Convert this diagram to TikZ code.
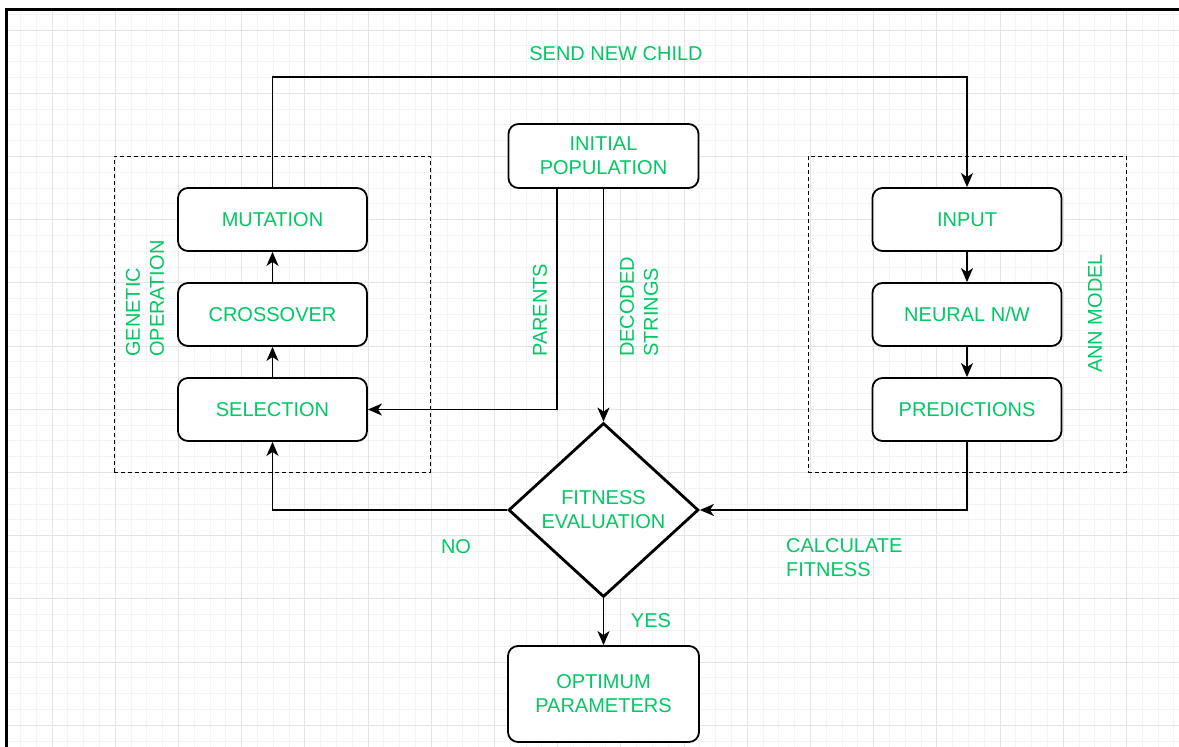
\documentclass[tikz,border=0pt]{standalone}
\usepackage{fontspec}
\setmainfont{Liberation Sans}
\usetikzlibrary{arrows.meta,shapes.geometric}
\definecolor{txtgreen}{RGB}{0,200,100}
\definecolor{gridminor}{RGB}{244,244,244}
\definecolor{gridmajor}{RGB}{228,228,228}
\begin{document}
\begin{tikzpicture}[x=1pt,y=-1pt,
  box/.style={draw=black, line width=1.8pt, rounded corners=10pt, fill=white,
    minimum width=189pt, minimum height=63pt, inner sep=0pt,
    font=\fontsize{20}{24}\selectfont, text=txtgreen, align=center},
  lbl/.style={font=\fontsize{20}{24}\selectfont, text=txtgreen, align=left, inner sep=0pt},
  arr/.style={draw=black, line width=1.8pt, -{Stealth[length=14pt,width=12pt,inset=4pt]}},
  grp/.style={draw=black, line width=1pt, dash pattern=on 4pt off 3pt, inner sep=0pt}]
\useasboundingbox (0,0) rectangle (1179,747);
\fill[white] (0,0) rectangle (1179,747);
% grid
\foreach \i in {1,...,74} {\draw[gridminor, line width=0.9pt] ({4.6+15.8*\i},10) -- ({4.6+15.8*\i},747);}
\foreach \i in {1,...,47} {\draw[gridminor, line width=0.9pt] (7,{-1.6+15.8*\i}) -- (1179,{-1.6+15.8*\i});}
\foreach \i in {0,...,17} {\draw[gridmajor, line width=1pt] ({52+63.2*\i},10) -- ({52+63.2*\i},747);}
\foreach \i in {0,...,11} {\draw[gridmajor, line width=1pt] (7,{30+63.2*\i}) -- (1179,{30+63.2*\i});}
% frame
\draw[line width=3pt] (6,747) -- (6,9) -- (1179,9);
% groups
\node[grp, minimum width=316pt, minimum height=316pt] (genbox) at (272,314) {};
\node[grp, minimum width=318pt, minimum height=316pt] (annbox) at (967,314) {};
% boxes
\node[box, minimum width=190pt, minimum height=64pt] (init) at (603.5,156) {INITIAL\\POPULATION};
\node[box] (mut) at (272.5,219.5) {MUTATION};
\node[box] (cross) at (272.5,314.5) {CROSSOVER};
\node[box] (sel) at (272.5,409.5) {SELECTION};
\node[box] (inp) at (967,219.5) {INPUT};
\node[box] (nn) at (967,314.5) {NEURAL N/W};
\node[box] (pred) at (967,409.5) {PREDICTIONS};
\node[diamond, draw=black, line width=2.8pt, fill=white, minimum width=190pt, minimum height=174pt,
  inner sep=0pt, aspect=1.09, font=\fontsize{20}{24}\selectfont, text=txtgreen, align=center] (fit) at (603.5,510) {FITNESS\\EVALUATION};
\node[box, minimum width=191pt, minimum height=96pt] (opt) at (603.5,694) {OPTIMUM\\PARAMETERS};
% connectors
\coordinate (topline) at (0,77);
\draw[arr] (mut.north) -- (mut.north |- topline) -| (inp.north);
\draw[arr] (cross) -- (mut);
\draw[arr] (sel) -- (cross);
\draw[arr] (inp) -- (nn);
\draw[arr] (nn) -- (pred);
\draw[arr] ([xshift=-46.5pt]init.south) |- (sel.east);
\draw[arr] (init.south) -- (fit.north);
\draw[arr] (fit.west) -| (sel.south);
\draw[arr] (pred.south) |- (fit.east);
\draw[arr] (fit.south) -- (opt.north);
% labels
\node[lbl] (lsend) at (616,54) {SEND NEW CHILD};
\node[lbl, rotate=90, anchor=west] (lpar) at (540,357) {PARENTS};
\node[lbl, rotate=90, anchor=west] (ldec) at (639,357) {DECODED\\STRINGS};
\node[lbl, rotate=90, anchor=west] (lgen) at (145,357) {GENETIC\\OPERATION};
\node[lbl, rotate=90, anchor=west] (lann) at (1095,373) {ANN MODEL};
\node[lbl] (lno) at (456,547) {NO};
\node[lbl] (lyes) at (651,621) {YES};
\node[lbl, anchor=west] (lcalc) at (786,558) {CALCULATE\\FITNESS};
\end{tikzpicture}
\end{document}
